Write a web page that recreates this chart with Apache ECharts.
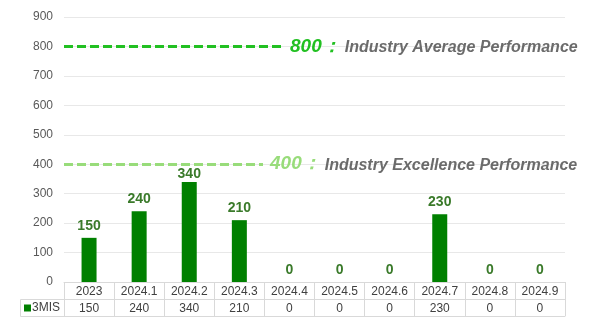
<!DOCTYPE html>
<html>
<head>
<meta charset="utf-8">
<script src="https://cdn.jsdelivr.net/npm/echarts@6/dist/echarts.min.js"></script>
<style>html,body{margin:0;padding:0;background:#fff}#c{width:600px;height:327px}</style>
</head>
<body>
<div id="c"></div>
<script>
var categories = ['2023','2024.1','2024.2','2024.3','2024.4','2024.5','2024.6','2024.7','2024.8','2024.9'];
var values = [150, 240, 340, 210, 0, 0, 0, 230, 0, 0];
var seriesName = '3MIS';
var refAverage = 800;
var refAverageText = 'Industry Average Performance';
var refExcellence = 400;
var refExcellenceText = 'Industry Excellence Performance';
var yTicks = {min: 0, max: 900, interval: 100};

var FONT = 'Arial, "Liberation Sans", sans-serif';
var GRID = {left: 64, right: 35, top: 17, bottom: 45};
var ROW = 17;
var HEAD_LEFT = 20;
var BORDER = '#d9d9d9';
var LABEL_NUDGE = {2: 4}; // label of 2024.2 sits a bit lower, clear of the reference line

var chart = echarts.init(document.getElementById('c'), null, {renderer: 'canvas'});

function refLine(val, text, color, xEnd) {
  return [
    {coord: [0, val], x: GRID.left, lineStyle: {color: color, width: 3, type: [9, 4]},
     label: {show: true, position: 'end', distance: 7,
       formatter: '{a|' + val + '：}{b|' + text + '}',
       rich: {
         a: {color: color, fontSize: 19, fontWeight: 'bold', fontStyle: 'italic', fontFamily: FONT},
         b: {color: '#6b6b6b', fontSize: 16, fontWeight: 'bold', fontStyle: 'italic', fontFamily: FONT,
             padding: [2, 0, 0, 4]}
       }}},
    {coord: [0, val], x: xEnd}
  ];
}

var plotBottom = 327 - GRID.bottom;
var barData = values.map(function (v, i) {
  return LABEL_NUDGE[i] ? {value: v, label: {offset: [0, LABEL_NUDGE[i]]}} : v;
});

var option = {
  animation: false,
  grid: {left: GRID.left, right: GRID.right, top: GRID.top, bottom: GRID.bottom, containLabel: false},
  graphic: [{
    type: 'rect', silent: true, z: 0,
    shape: {x: HEAD_LEFT + 0.5, y: plotBottom + ROW + 0.5, width: GRID.left - HEAD_LEFT, height: ROW},
    style: {fill: 'none', stroke: BORDER, lineWidth: 1}
  }],
  legend: {
    show: true, left: HEAD_LEFT + 4, top: plotBottom + ROW + 3, orient: 'horizontal',
    data: [seriesName], icon: 'rect', itemWidth: 7, itemHeight: 7, itemGap: 0,
    padding: 0,
    textStyle: {color: '#404040', fontSize: 12, fontFamily: FONT, padding: [0, 0, 0, -4]}
  },
  xAxis: [
    {type: 'category', data: categories, position: 'bottom',
     axisLine: {show: true, lineStyle: {color: BORDER, width: 1}},
     axisTick: {show: true, length: ROW * 2, interval: 0, lineStyle: {color: BORDER, width: 1}},
     axisLabel: {color: '#404040', fontSize: 12, fontFamily: FONT, margin: 4, interval: 0},
     splitLine: {show: false}},
    {type: 'category', data: categories, position: 'bottom', offset: ROW,
     axisLine: {show: true, lineStyle: {color: BORDER, width: 1}},
     axisTick: {show: false},
     axisLabel: {color: '#404040', fontSize: 12, fontFamily: FONT, margin: 4, interval: 0,
       formatter: function (v, i) { return String(values[i]); }},
     splitLine: {show: false}},
    {type: 'category', data: categories, position: 'bottom', offset: ROW * 2,
     axisLine: {show: true, lineStyle: {color: BORDER, width: 1}},
     axisTick: {show: false}, axisLabel: {show: false}, splitLine: {show: false}}
  ],
  yAxis: {
    type: 'value', min: yTicks.min, max: yTicks.max, interval: yTicks.interval,
    axisLine: {show: false}, axisTick: {show: false},
    axisLabel: {color: '#595959', fontSize: 12, fontFamily: FONT, margin: 11},
    splitLine: {show: true, lineStyle: {color: '#e8e8e8', width: 1}}
  },
  series: [{
    name: seriesName, type: 'bar', xAxisIndex: 0, data: barData, barWidth: 15,
    itemStyle: {color: '#008000'},
    label: {show: true, position: 'top', distance: 5, color: '#3a7a2a',
      fontSize: 14, fontWeight: 'bold', fontFamily: FONT},
    markLine: {
      silent: true, symbol: ['none', 'none'], z: 1,
      data: [
        refLine(refAverage, refAverageText, '#22c022', 283),
        refLine(refExcellence, refExcellenceText, '#98dc7a', 263)
      ]
    }
  }]
};
chart.setOption(option);
</script>
</body>
</html>
